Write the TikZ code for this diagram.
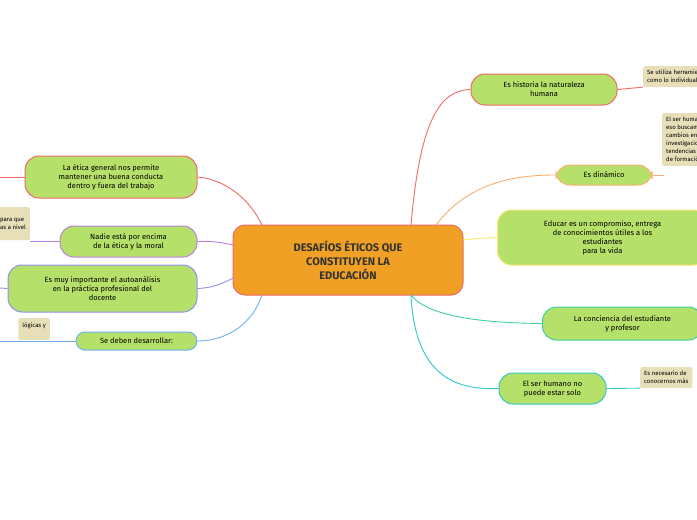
\documentclass[tikz,border=0pt]{standalone}
\usepackage{fontspec}
\setmainfont{Fira Sans}
\begin{document}
\begin{tikzpicture}[x=1pt,y=-1pt,
 topic/.style={draw=#1,line width=1pt,fill=green1,rounded corners=14pt,align=center,font=\fontsize{7.5}{9}\selectfont,inner sep=3pt},
 note/.style={fill=beige,rounded corners=2pt,align=left,font=\fontsize{6}{8}\selectfont,inner sep=4pt,anchor=north west},
 con/.style={line width=0.9pt,draw=#1}]
\definecolor{green1}{HTML}{B5E06A}
\definecolor{beige}{HTML}{E6DFB8}
\definecolor{cred}{HTML}{F06A6A}
\definecolor{corange}{HTML}{F8B070}
\definecolor{cyellow}{HTML}{F8E870}
\definecolor{cteal}{HTML}{40D0A0}
\definecolor{ccyan}{HTML}{30C8C8}
\definecolor{cpurple}{HTML}{C080E0}
\definecolor{cviolet}{HTML}{9090F0}
\definecolor{cblue}{HTML}{70B0F0}
\definecolor{corg}{HTML}{F0A024}
\useasboundingbox (0,0) rectangle (697,520);
\clip (0,0) rectangle (697,520);
\fill[white] (0,0) rectangle (697,520);
% notes
\node[note] (n1) at (643,66) {Se utiliza herramientas\\como lo individual};
\node[note] (n2) at (662,113) {El ser humano\\eso buscamos\\cambios en\\investigaciones\\tendencias\\de formación};
\node[note,anchor=north east,minimum height=33pt] (n3) at (30,207) {para que\\as a nivel};
\node[note,anchor=north east,minimum height=22pt] (n4) at (50,318) {lógicas y\\};
\node[note] (n5) at (640,367) {Es necesario de\\conocernos más};
% center
\node[draw=cred,line width=1pt,fill=corg,rounded corners=12pt,minimum width=230pt,minimum height=70pt,align=center,font=\bfseries\fontsize{11}{14}\selectfont,text=black!80] (c) at (348,260) {DESAFÍOS ÉTICOS QUE\\CONSTITUYEN LA\\EDUCACIÓN};
% topics
\node[topic=cred,minimum width=146pt,minimum height=31pt] (r1) at (544,89.5) {Es historia la naturaleza\\humana};
\node[topic=corange,minimum width=96pt,minimum height=20pt] (r2) at (604,175) {Es dinámico};
\node[topic=cyellow,minimum width=210pt,minimum height=55pt,anchor=west] (r3) at (497,237.5) {Educar es un compromiso, entrega\\de conocimientos útiles a los\\estudiantes\\para la vida};
\node[topic=cteal,minimum width=160pt,minimum height=33pt,anchor=west] (r4) at (542,323.5) {La conciencia del estudiante\\y profesor};
\node[topic=ccyan,minimum width=107pt,minimum height=31pt] (r5) at (552.5,388.5) {El ser humano no\\puede estar solo};
\node[topic=cred,minimum width=172pt,minimum height=42pt] (l1) at (111,177) {La ética general nos permite\\mantener una buena conducta\\dentro y fuera del trabajo};
\node[topic=cpurple,minimum width=137pt,minimum height=31pt] (l2) at (128.5,241.5) {Nadie está por encima\\de la ética y la moral};
\node[topic=cviolet,minimum width=189pt,minimum height=47pt] (l3) at (102.5,288.5) {Es muy importante el autoanálisis\\en la práctica profesional del\\docente};
\node[topic=cblue,minimum width=121pt,minimum height=18pt,rounded corners=9pt] (l4) at (136.5,341) {Se deben desarrollar:};
% connectors
\draw[con=cred] (411,225) .. controls (420,120) and (440,90) .. (r1.west);
\draw[con=corange] (436,225) .. controls (470,180) and (520,175) .. (r2.west);
\draw[con=cyellow] (463,240) .. controls (480,238) and (490,238) .. (r3.west);
\draw[con=cteal] (411,295) .. controls (430,320) and (500,323) .. (r4.west);
\draw[con=ccyan] (411,295) .. controls (415,380) and (460,390) .. (r5.west);
\draw[con=cred] (262,225) .. controls (245,190) and (215,178) .. (l1.east);
\draw[con=cpurple] (233,245) .. controls (220,242) and (210,241) .. (l2.east);
\draw[con=cviolet] (233,278) .. controls (220,285) and (210,288) .. (l3.east);
\draw[con=cblue] (262,295) .. controls (250,330) and (220,341) .. (l4.east);
\draw[con=cred] (r1.east) -- (n1.south west);
\draw[con=corange] (r2.east) -- (664,175);
\draw[con=ccyan] (r5.east) -- (n5.south west);
\draw[con=cred] (l1.west) -- (0,177);
\draw[con=cpurple] (l2.west) -- (n3.south east |- l2.west);
\draw[con=cviolet] (l3.west) -- (0,288);
\draw[con=cblue] (l4.west) -- (0,341);
\end{tikzpicture}
\end{document}
